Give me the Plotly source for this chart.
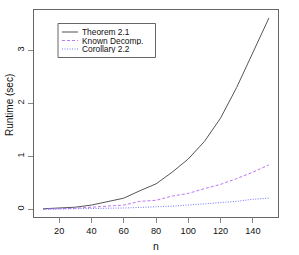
import plotly.graph_objects as go

n_vals = [10, 20, 30, 40, 50, 60, 70, 80, 90, 100, 110, 120, 130, 140, 150]
theorem = [0.01, 0.02, 0.04, 0.08, 0.14, 0.21, 0.35, 0.48, 0.70, 0.95, 1.28, 1.72, 2.30, 2.95, 3.61]
known = [0.003, 0.01, 0.02, 0.04, 0.06, 0.08, 0.15, 0.17, 0.25, 0.30, 0.39, 0.47, 0.58, 0.70, 0.84]
corollary = [0.001, 0.004, 0.008, 0.012, 0.018, 0.025, 0.035, 0.045, 0.06, 0.08, 0.10, 0.12, 0.15, 0.19, 0.21]

names = ["Theorem 2.1", "Known Decomp.", "Corollary 2.2"]
colors = ["#555555", "#bb77f5", "#7777ff"]
dashes = ["solid", "3px,2px", "1px,1.5px"]
series = [theorem, known, corollary]

FONT = "Liberation Sans, Arial, sans-serif"
W, H = 299, 255
ML, MR, MT, MB = 34, 21, 10, 38

fig = go.Figure()
for nm, ys, c, d in zip(names, series, colors, dashes):
    fig.add_trace(go.Scatter(x=n_vals, y=ys, mode="lines", name=nm,
                             line=dict(color=c, width=1, dash=d), showlegend=False,
                             hoverinfo="skip"))

pw = W - ML - MR
ph = H - MT - MB
def px_x(px):
    return (px - ML) / pw
def px_y(py):
    return (H - MB - py) / ph

shapes = [dict(type="rect", xref="paper", yref="paper",
               x0=px_x(58), x1=px_x(155.5), y0=px_y(57.5), y1=px_y(23.5),
               line=dict(color="#666666", width=1), fillcolor="white")]
annotations = []
rows = [32, 40.5, 49]
for nm, c, d, ry in zip(names, colors, dashes, rows):
    shapes.append(dict(type="line", xref="paper", yref="paper",
                       x0=px_x(62), x1=px_x(78), y0=px_y(ry), y1=px_y(ry),
                       line=dict(color=c, width=1, dash=d)))
    annotations.append(dict(xref="paper", yref="paper", x=px_x(81), y=px_y(ry),
                            text=nm, showarrow=False, xanchor="left", yanchor="middle",
                            height=8, borderpad=0,
                            font=dict(family=FONT, size=8.4, color="#111111")))

annotations.append(dict(xref="paper", yref="paper", x=px_x(9), y=px_y(105),
                        text="Runtime (sec)", textangle=-90, showarrow=False,
                        xanchor="center", yanchor="middle",
                        font=dict(family=FONT, size=10, color="#111111")))
annotations.append(dict(xref="paper", yref="paper", x=px_x(156), y=px_y(246),
                        text="n", showarrow=False,
                        xanchor="center", yanchor="middle",
                        font=dict(family=FONT, size=10.5, color="#111111")))

fig.update_layout(
    width=W, height=H,
    margin=dict(l=ML, r=MR, t=MT, b=MB, autoexpand=False),
    plot_bgcolor="white", paper_bgcolor="white",
    font=dict(family=FONT, size=9, color="#111111"),
    shapes=shapes, annotations=annotations,
    hovermode=False,
    xaxis=dict(range=[4.4, 155.6], tickvals=[20, 40, 60, 80, 100, 120, 140],
               ticks="outside", ticklen=5, tickcolor="#888888",
               tickfont=dict(size=9.2),
               showline=True, mirror=True, linecolor="#666666", linewidth=1,
               showgrid=False, zeroline=False),
    yaxis=dict(range=[-0.145, 3.76], tickvals=[0, 1, 2, 3], tickangle=-90,
               ticks="outside", ticklen=5, tickcolor="#888888",
               tickfont=dict(size=9.2),
               showline=True, mirror=True, linecolor="#666666", linewidth=1,
               showgrid=False, zeroline=False),
)
fig.write_html("out.html", config={"displayModeBar": False, "staticPlot": True},
               post_script="document.body.style.margin='0';document.body.style.overflow='hidden';")
